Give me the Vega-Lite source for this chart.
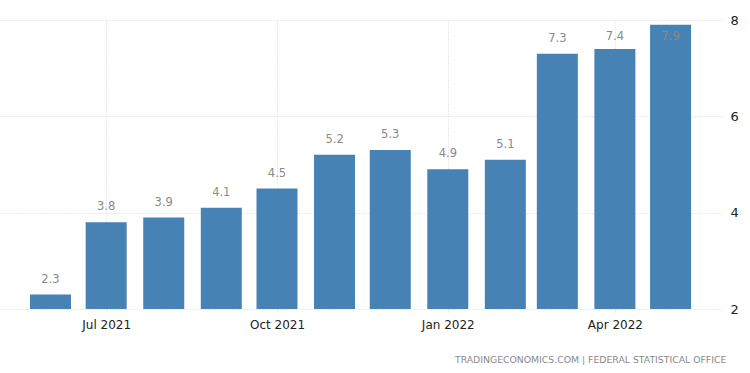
{
  "$schema": "https://vega.github.io/schema/vega-lite/v6.json",
  "width": 722,
  "height": 289,
  "autosize": {"type": "pad"},
  "padding": {"left": 0, "top": 14, "right": 4, "bottom": 6},
  "background": "white",
  "title": {
    "text": "TRADINGECONOMICS.COM  |  FEDERAL STATISTICAL OFFICE",
    "orient": "bottom",
    "anchor": "end",
    "font": "DejaVu Sans",
    "fontSize": 9.3,
    "fontWeight": "normal",
    "color": "#8a8a8a",
    "offset": 26,
    "dx": -12
  },
  "config": {
    "view": {"stroke": null},
    "font": "DejaVu Sans"
  },
  "data": {
    "values": [
      {"date": "2021-06-01", "value": 2.3},
      {"date": "2021-07-01", "value": 3.8},
      {"date": "2021-08-01", "value": 3.9},
      {"date": "2021-09-01", "value": 4.1},
      {"date": "2021-10-01", "value": 4.5},
      {"date": "2021-11-01", "value": 5.2},
      {"date": "2021-12-01", "value": 5.3},
      {"date": "2022-01-01", "value": 4.9},
      {"date": "2022-02-01", "value": 5.1},
      {"date": "2022-03-01", "value": 7.3},
      {"date": "2022-04-01", "value": 7.4},
      {"date": "2022-05-01", "value": 7.9}
    ]
  },
  "transform": [
    {"calculate": "min(datum.value + 0.31, 7.65)", "as": "labelY"}
  ],
  "encoding": {
    "x": {
      "field": "date",
      "type": "temporal",
      "scale": {
        "type": "utc",
        "domain": [
          {"year": 2021, "month": 5, "date": 7, "hours": 12, "utc": true},
          {"year": 2022, "month": 5, "date": 26, "utc": true}
        ]
      },
      "axis": {
        "title": null,
        "values": [
          {"year": 2021, "month": 7, "date": 1, "utc": true},
          {"year": 2021, "month": 10, "date": 1, "utc": true},
          {"year": 2022, "month": 1, "date": 1, "utc": true},
          {"year": 2022, "month": 4, "date": 1, "utc": true}
        ],
        "labelExpr": "utcFormat(datum.value, '%b %Y')",
        "domain": false,
        "ticks": true,
        "tickSize": 4,
        "tickColor": "#dddddd",
        "tickDash": [1, 1],
        "grid": true,
        "gridColor": "#d6d6d6",
        "gridDash": [1, 2],
        "labelFontSize": 12,
        "labelColor": "#222222",
        "labelPadding": 6
      }
    }
  },
  "layer": [
    {
      "mark": {"type": "bar", "width": 41, "color": "#4682B4"},
      "encoding": {
        "y": {
          "field": "value",
          "type": "quantitative",
          "scale": {"domain": [2, 8], "nice": false, "zero": false},
          "axis": {
            "title": null,
            "orient": "right",
            "values": [2, 4, 6, 8],
            "domain": false,
            "ticks": false,
            "grid": true,
            "gridColor": "#d6d6d6",
            "gridDash": [1, 2],
            "labelFontSize": 13,
            "labelColor": "#222222",
            "labelPadding": 8
          }
        },
        "y2": {"datum": 2}
      }
    },
    {
      "mark": {"type": "text", "baseline": "middle", "align": "center", "fontSize": 11.5, "color": "#8a8a8a"},
      "encoding": {
        "y": {"field": "labelY", "type": "quantitative"},
        "text": {"field": "value", "type": "quantitative", "format": ".1f"}
      }
    }
  ]
}
